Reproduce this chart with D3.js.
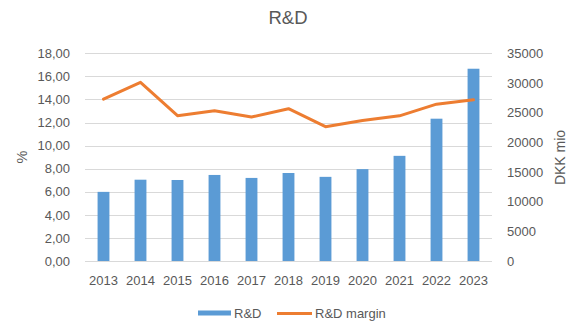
<!DOCTYPE html>
<html>
<head>
<meta charset="utf-8">
<script src="https://cdn.jsdelivr.net/npm/d3@7"></script>
<style>
  html, body { margin: 0; padding: 0; background: #fff; }
  svg { display: block; font-family: "Liberation Sans", Arial, sans-serif; }
</style>
</head>
<body>
<svg id="chart" width="572" height="327"></svg>
<script>
const years = ["2013","2014","2015","2016","2017","2018","2019","2020","2021","2022","2023"];
const rdValues = [11650, 13700, 13650, 14500, 14000, 14830, 14180, 15480, 17720, 23980, 32400];
const rdMargin = [14.02, 15.49, 12.59, 13.03, 12.48, 13.20, 11.64, 12.17, 12.58, 13.59, 13.97];
const leftTicks = [0, 2, 4, 6, 8, 10, 12, 14, 16, 18];
const rightTicks = [0, 5000, 10000, 15000, 20000, 25000, 30000, 35000];
const seriesNames = ["R&D", "R&D margin"];

const W = 572, H = 327;
const plot = { left: 85, right: 492, top: 53.3, bottom: 261 };
const textColor = "#595959", gridColor = "#D9D9D9";
const blue = "#5B9BD5", orange = "#ED7D31";

const svg = d3.select("#chart");

const x = d3.scaleBand().domain(years).range([plot.left, plot.right])
  .paddingInner(0.68).paddingOuter(0.34);
const yL = d3.scaleLinear().domain([0, 18]).range([plot.bottom, plot.top]);
const yR = d3.scaleLinear().domain([0, 35000]).range([plot.bottom, plot.top]);

// gridlines
svg.append("g").selectAll("line").data(leftTicks).join("line")
  .attr("x1", plot.left).attr("x2", plot.right)
  .attr("y1", d => Math.round(yL(d)) + 0.5).attr("y2", d => Math.round(yL(d)) + 0.5)
  .attr("stroke", gridColor).attr("stroke-width", 1);

// bars (right axis)
svg.append("g").selectAll("rect").data(years).join("rect")
  .attr("x", d => x(d))
  .attr("width", x.bandwidth())
  .attr("y", (d, i) => yR(rdValues[i]))
  .attr("height", (d, i) => plot.bottom - yR(rdValues[i]))
  .attr("fill", blue);

// line (left axis)
const line = d3.line()
  .x((d, i) => x(years[i]) + x.bandwidth() / 2)
  .y(d => yL(d));
svg.append("path").datum(rdMargin)
  .attr("d", line).attr("fill", "none")
  .attr("stroke", orange).attr("stroke-width", 3)
  .attr("stroke-linejoin", "round").attr("stroke-linecap", "round");

// left axis
const fmtL = d => d3.format(".2f")(d).replace(".", ",");
const axL = d3.axisLeft(yL).tickValues(leftTicks).tickFormat(fmtL).tickSize(0).tickPadding(0);
const gL = svg.append("g").attr("transform", `translate(70,0)`).call(axL);
gL.select(".domain").remove();
gL.selectAll("text").attr("fill", textColor).attr("font-size", 13)
  .attr("font-family", "Liberation Sans, Arial, sans-serif");

// right axis
const axR = d3.axisRight(yR).tickValues(rightTicks).tickFormat(d3.format("d")).tickSize(0).tickPadding(0);
const gR = svg.append("g").attr("transform", `translate(507,0)`).call(axR);
gR.select(".domain").remove();
gR.selectAll("text").attr("fill", textColor).attr("font-size", 13)
  .attr("font-family", "Liberation Sans, Arial, sans-serif");

// x axis
const axX = d3.axisBottom(x).tickSize(0).tickPadding(0);
const gX = svg.append("g").attr("transform", `translate(0,${plot.bottom + 15})`).call(axX);
gX.select(".domain").remove();
gX.selectAll("text").attr("fill", textColor).attr("font-size", 13)
  .attr("font-family", "Liberation Sans, Arial, sans-serif");

// title
svg.append("text").attr("x", 288).attr("y", 24).attr("text-anchor", "middle")
  .attr("fill", textColor).attr("font-size", 18.5).text("R&D");

// axis titles
svg.append("text").attr("transform", "translate(27,157) rotate(-90)")
  .attr("text-anchor", "middle").attr("fill", textColor).attr("font-size", 14.5).text("%");
svg.append("text").attr("transform", "translate(565,157.5) rotate(-90)")
  .attr("text-anchor", "middle").attr("fill", textColor).attr("font-size", 14).text("DKK mio");

// legend
const lg = svg.append("g");
lg.append("rect").attr("x", 198).attr("y", 310.5).attr("width", 33).attr("height", 5).attr("fill", blue);
lg.append("text").attr("x", 234).attr("y", 318).attr("fill", textColor).attr("font-size", 13).text(seriesNames[0]);
lg.append("line").attr("x1", 277).attr("x2", 312).attr("y1", 313.5).attr("y2", 313.5)
  .attr("stroke", orange).attr("stroke-width", 3);
lg.append("text").attr("x", 315).attr("y", 318).attr("fill", textColor).attr("font-size", 13).text(seriesNames[1]);
</script>
</body>
</html>
